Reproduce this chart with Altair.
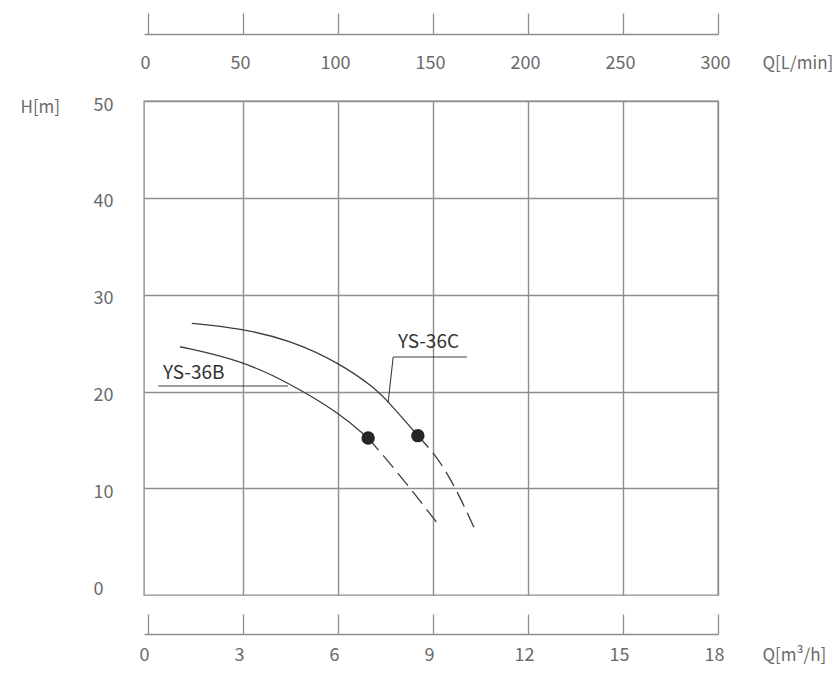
import altair as alt
import pandas as pd

# ---------------- data ----------------
# flow Q in m3/h, head H in m
q_ticks = [0, 3, 6, 9, 12, 15, 18]
lpm_labels = ["0", "50", "100", "150", "200", "250", "300"]
h_ticks = [0, 10, 20, 30, 40, 50]

# YS-36C curve: solid part up to the duty point, dashed beyond
c_q = [1.38, 2.91, 4.48, 6.06, 7.11, 7.59, 8.52]
c_h = [27.05, 26.53, 25.33, 22.92, 20.50, 18.95, 15.45]
c_dash_q = [8.52, 9.22, 9.85, 10.33]
c_dash_h = [15.45, 12.94, 9.15, 5.71]

# YS-36B curve
b_q = [1.01, 2.91, 4.48, 6.06, 6.95]
b_h = [24.63, 23.26, 20.85, 17.75, 15.20]
b_dash_q = [6.95, 7.64, 8.49, 9.22]
b_dash_h = [15.20, 12.60, 9.15, 6.05]

# duty points
pt_q = [6.95, 8.52]
pt_h = [15.20, 15.45]

# curve labels and leader lines
lab_text = ["YS-36C", "YS-36B"]
lab_q = [7.89, 0.47]
lab_h = [25.12, 21.92]

lead_q1 = [7.74, 7.74, 0.32]
lead_h1 = [23.57, 23.57, 20.58]
lead_q2 = [10.07, 7.58, 4.42]
lead_h2 = [23.57, 18.82, 20.58]

# ---------------- tables ----------------
solid = pd.DataFrame({"q": c_q + b_q, "h": c_h + b_h,
                      "s": ["C"] * len(c_q) + ["B"] * len(b_q)})
dashed = pd.DataFrame({"q": c_dash_q + b_dash_q, "h": c_dash_h + b_dash_h,
                       "s": ["C"] * len(c_dash_q) + ["B"] * len(b_dash_q)})
pts = pd.DataFrame({"q": pt_q, "h": pt_h})
labs = pd.DataFrame({"q": lab_q, "h": lab_h, "t": lab_text})
leads = pd.DataFrame({"q": lead_q1, "h": lead_h1, "q2": lead_q2, "h2": lead_h2})

FONT = "Noto Sans CJK SC"
GRAY = "#8e8e8e"
TXT = "#6a6a6a"
LINE = "#3c3c3c"

x_scale = alt.Scale(domain=[-0.13, 18], nice=False, zero=False)
y_scale = alt.Scale(domain=[-1, 50], nice=False, zero=False)

hide_zero = {"condition": {"test": "datum.value === 0", "value": "transparent"}, "value": GRAY}

lpm_expr = "[" + ",".join("'%s'" % s for s in lpm_labels) + "][round(datum.value / 3)]"

top_axis = alt.Axis(
    orient="top", offset=67, values=q_ticks, labelExpr=lpm_expr,
    tickSize=21, tickColor=GRAY, tickWidth=1.3,
    domainColor=GRAY, domainWidth=1.3,
    labelPadding=-50, labelBaseline="middle", labelFlush=False, labelOverlap=False,
    labelOffset=-3, labelFontSize=18, labelColor=TXT, labelFont=FONT,
    grid=True, gridColor=hide_zero, gridWidth=1.4,
    title="Q[L/min]", titleX=618, titleY=29, titleAlign="left", titleBaseline="middle",
    titleAngle=0, titleFontSize=17, titleFontWeight="normal", titleColor=TXT, titleFont=FONT,
)

bottom_axis = alt.Axis(
    orient="top", offset=-533, values=q_ticks, format="d",
    tickSize=20, tickColor=GRAY, tickWidth=1.3,
    domainColor=GRAY, domainWidth=1.3,
    labelPadding=-46, labelBaseline="alphabetic", labelFlush=False, labelOverlap=False,
    labelOffset=-4, labelFontSize=18, labelColor=TXT, labelFont=FONT,
    grid=False,
    title="Q[m³/h]", titleX=618, titleY=26, titleAlign="left", titleBaseline="alphabetic",
    titleAngle=0, titleFontSize=17, titleFontWeight="normal", titleColor=TXT, titleFont=FONT,
)

y_axis = alt.Axis(
    orient="left", values=h_ticks, format="d", domain=False, ticks=False, tickSize=0,
    labelPadding=51, labelAlign="left", labelBaseline="middle", labelOffset=4,
    labelFontSize=18, labelColor=TXT, labelFont=FONT, labelFlush=False, labelOverlap=False,
    grid=True, gridColor=hide_zero, gridWidth=1.4,
    title="H[m]", titleX=-124, titleY=6, titleAlign="left", titleBaseline="middle",
    titleAngle=0, titleFontSize=17, titleFontWeight="normal", titleColor=TXT, titleFont=FONT,
)

solid_layer = alt.Chart(solid).mark_line(
    interpolate="basis", color=LINE, strokeWidth=1.3
).encode(
    x=alt.X("q:Q", scale=x_scale, axis=top_axis),
    y=alt.Y("h:Q", scale=y_scale, axis=y_axis),
    detail="s:N",
)

dash_layer = alt.Chart(dashed).mark_line(
    interpolate="basis", color=LINE, strokeWidth=1.3, strokeDash=[16, 7]
).encode(
    x=alt.X("q:Q", scale=x_scale, axis=None),
    y=alt.Y("h:Q", scale=y_scale, axis=None),
    detail="s:N",
)

lead_layer = alt.Chart(leads).mark_rule(color=LINE, strokeWidth=1.1).encode(
    x=alt.X("q:Q", scale=x_scale, axis=None),
    y=alt.Y("h:Q", scale=y_scale, axis=None),
    x2="q2:Q",
    y2="h2:Q",
)

text_layer = alt.Chart(labs).mark_text(
    align="left", baseline="middle", fontSize=19, font=FONT, color="#333333"
).encode(
    x=alt.X("q:Q", scale=x_scale, axis=None),
    y=alt.Y("h:Q", scale=y_scale, axis=None),
    text="t:N",
)

pt_layer = alt.Chart(pts).mark_circle(size=180, color="#262626", opacity=1).encode(
    x=alt.X("q:Q", scale=x_scale, axis=bottom_axis),
    y=alt.Y("h:Q", scale=y_scale, axis=None),
)

chart = alt.layer(
    solid_layer, dash_layer, lead_layer, text_layer, pt_layer
).resolve_axis(x="independent", y="independent").properties(
    width=574, height=494,
    autosize=alt.AutoSizeParams(type="none"),
    padding={"left": 136, "top": 93, "right": 114, "bottom": 71},
    background="white",
).configure_view(stroke=GRAY, strokeWidth=1.4)

chart.save("out.html", embed_options={"renderer": "svg", "actions": False})
